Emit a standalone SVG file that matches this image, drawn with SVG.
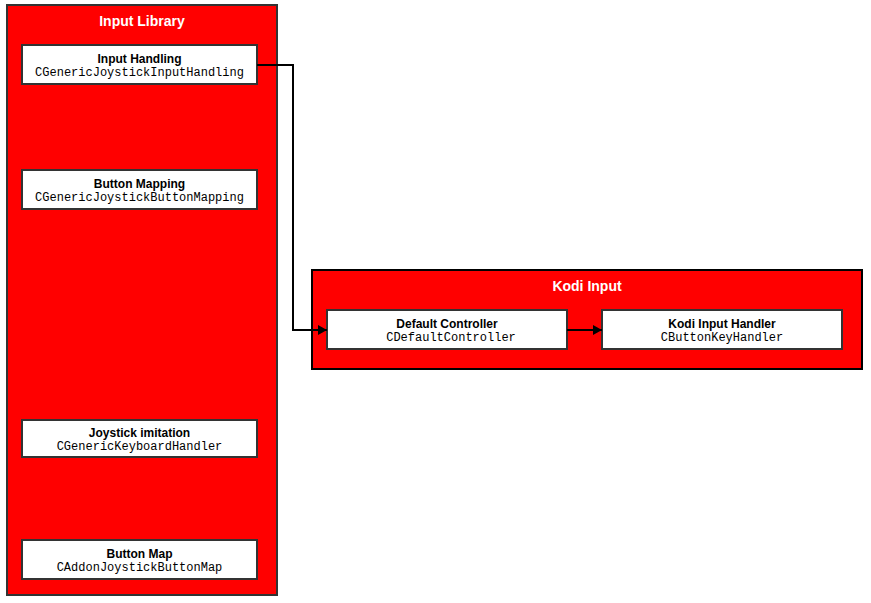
<svg xmlns="http://www.w3.org/2000/svg" width="871" height="603" viewBox="0 0 871 603">
<defs>
<style>
.cont{fill:#ff0000;stroke:#333;stroke-width:2}
.node{fill:#fff;stroke:#333;stroke-width:2}
.ctitle{font-family:"Liberation Sans",Arial,sans-serif;font-weight:bold;font-size:14px;fill:#fff;text-anchor:middle}
.ntitle{font-family:"Liberation Sans",Arial,sans-serif;font-weight:bold;font-size:12px;fill:#000;text-anchor:middle}
.ncode{font-family:"Liberation Mono","Courier New",monospace;font-size:12px;fill:#000;text-anchor:middle}
.edge{fill:none;stroke:#000;stroke-width:2}
</style>
<marker id="arr" markerWidth="10" markerHeight="10" refX="9" refY="5" orient="auto" markerUnits="userSpaceOnUse">
<path d="M0,0 L9,5 L0,10 Z" fill="#000"/>
</marker>
</defs>
<rect width="871" height="603" fill="#fff"/>
<g id="input-library">
<rect class="cont" x="7" y="5" width="270" height="590"/>
<text class="ctitle" x="142" y="26">Input Library</text>
</g>
<g id="kodi-input">
<rect class="cont" x="312" y="270" width="550" height="99" style="stroke:#000"/>
<text class="ctitle" x="587" y="291">Kodi Input</text>
</g>
<g id="input-handling">
<rect class="node" x="22" y="45" width="235" height="39"/>
<text class="ntitle" x="139.5" y="63">Input Handling</text>
<text class="ncode" x="139.5" y="76">CGenericJoystickInputHandling</text>
</g>
<g id="button-mapping">
<rect class="node" x="22" y="170" width="235" height="39"/>
<text class="ntitle" x="139.5" y="188">Button Mapping</text>
<text class="ncode" x="139.5" y="201">CGenericJoystickButtonMapping</text>
</g>
<g id="joystick-imitation">
<rect class="node" x="22" y="420" width="235" height="37"/>
<text class="ntitle" x="139.5" y="437">Joystick imitation</text>
<text class="ncode" x="139.5" y="450">CGenericKeyboardHandler</text>
</g>
<g id="button-map">
<rect class="node" x="22" y="540" width="235" height="39"/>
<text class="ntitle" x="139.5" y="558">Button Map</text>
<text class="ncode" x="139.5" y="571">CAddonJoystickButtonMap</text>
</g>
<g id="default-controller">
<rect class="node" x="327" y="310" width="240" height="39"/>
<text class="ntitle" x="447" y="328">Default Controller</text>
<text class="ncode" x="451" y="341">CDefaultController</text>
</g>
<g id="kodi-input-handler">
<rect class="node" x="602" y="310" width="240" height="39"/>
<text class="ntitle" x="722" y="328">Kodi Input Handler</text>
<text class="ncode" x="722" y="341">CButtonKeyHandler</text>
</g>
<g id="connectors">
<path class="edge" d="M257,65 L293,65 L293,330 L327,330" marker-end="url(#arr)"/>
<path class="edge" d="M567,330 L602,330" marker-end="url(#arr)"/>
</g>
</svg>
